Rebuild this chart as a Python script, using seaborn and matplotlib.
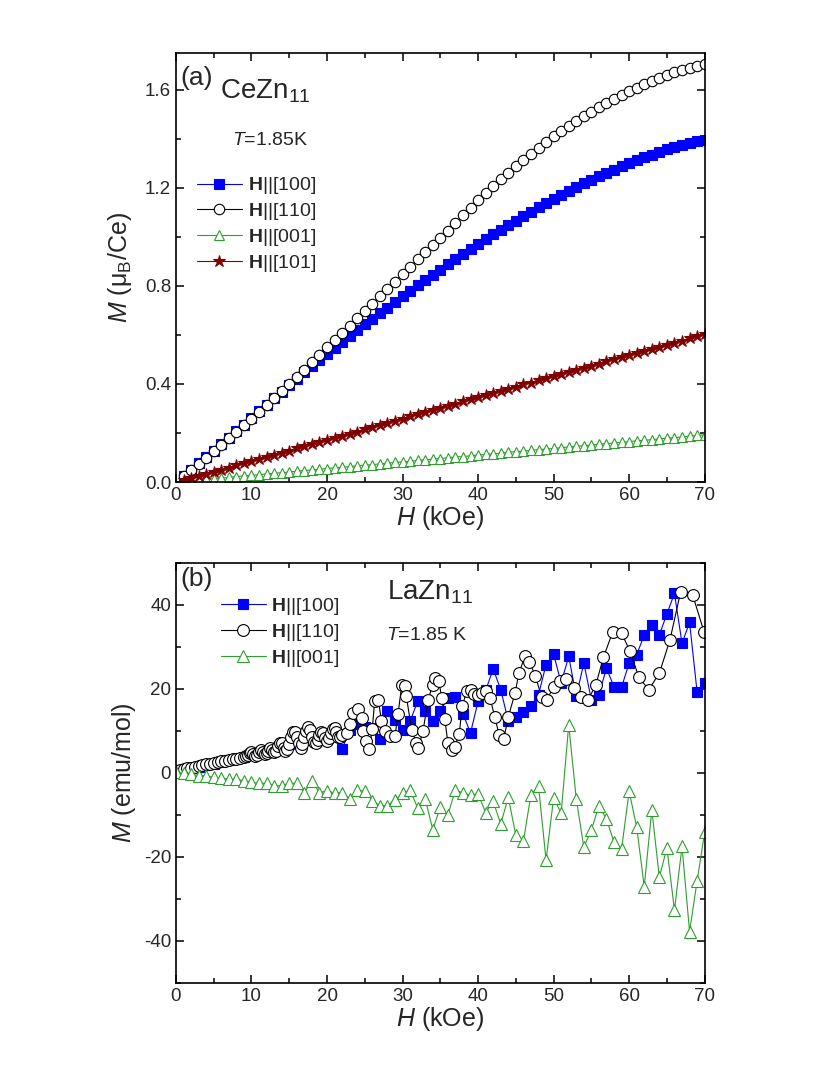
import matplotlib
matplotlib.use('Agg')
import matplotlib.pyplot as plt
from matplotlib.ticker import MultipleLocator, FormatStrFormatter
import seaborn as sns

# ---- panel (a): CeZn11, T = 1.85 K ----
h_a = [1, 2, 3, 4, 5, 6, 7, 8, 9, 10, 11, 12, 13, 14, 15, 16, 17, 18, 19, 20,
       21, 22, 23, 24, 25, 26, 27, 28, 29, 30, 31, 32, 33, 34, 35, 36, 37, 38, 39, 40,
       41, 42, 43, 44, 45, 46, 47, 48, 49, 50, 51, 52, 53, 54, 55, 56, 57, 58, 59, 60,
       61, 62, 63, 64, 65, 66, 67, 68, 69, 70]
m_a_100 = [0.025, 0.050, 0.076, 0.102, 0.128, 0.154, 0.180, 0.207, 0.234, 0.261,
           0.288, 0.315, 0.342, 0.369, 0.396, 0.422, 0.448, 0.474, 0.499, 0.524,
           0.548, 0.572, 0.596, 0.620, 0.643, 0.666, 0.689, 0.712, 0.735, 0.758,
           0.780, 0.802, 0.824, 0.846, 0.867, 0.888, 0.909, 0.930, 0.950, 0.970,
           0.990, 1.010, 1.029, 1.048, 1.067, 1.085, 1.103, 1.121, 1.138, 1.155,
           1.171, 1.187, 1.203, 1.218, 1.233, 1.247, 1.261, 1.275, 1.288, 1.301,
           1.313, 1.325, 1.336, 1.347, 1.357, 1.366, 1.375, 1.383, 1.390, 1.396]
m_a_110 = [0.024, 0.049, 0.074, 0.100, 0.126, 0.152, 0.178, 0.205, 0.232, 0.259,
           0.287, 0.315, 0.343, 0.372, 0.401, 0.430, 0.459, 0.489, 0.519, 0.549,
           0.578, 0.608, 0.638, 0.668, 0.698, 0.728, 0.758, 0.788, 0.818, 0.848,
           0.878, 0.908, 0.938, 0.967, 0.996, 1.025, 1.057, 1.089, 1.120, 1.150,
           1.179, 1.207, 1.235, 1.262, 1.289, 1.315, 1.340, 1.364, 1.387, 1.410,
           1.432, 1.453, 1.473, 1.492, 1.511, 1.529, 1.546, 1.563, 1.579, 1.595,
           1.609, 1.623, 1.636, 1.648, 1.660, 1.671, 1.681, 1.690, 1.699, 1.707]
m_a_001 = [0.003, 0.005, 0.008, 0.011, 0.014, 0.016, 0.019, 0.022, 0.025, 0.027,
           0.030, 0.033, 0.036, 0.038, 0.041, 0.044, 0.047, 0.049, 0.052, 0.055,
           0.058, 0.060, 0.063, 0.066, 0.069, 0.071, 0.074, 0.077, 0.080, 0.082,
           0.085, 0.088, 0.091, 0.093, 0.096, 0.099, 0.102, 0.104, 0.107, 0.110,
           0.113, 0.115, 0.118, 0.121, 0.124, 0.126, 0.129, 0.132, 0.135, 0.137,
           0.140, 0.143, 0.146, 0.148, 0.151, 0.154, 0.157, 0.159, 0.162, 0.165,
           0.168, 0.170, 0.173, 0.176, 0.179, 0.181, 0.184, 0.187, 0.190, 0.193]
m_a_101 = [0.008, 0.017, 0.025, 0.034, 0.042, 0.051, 0.059, 0.068, 0.076, 0.085,
           0.093, 0.102, 0.111, 0.119, 0.128, 0.137, 0.145, 0.154, 0.163, 0.171,
           0.180, 0.189, 0.198, 0.206, 0.215, 0.224, 0.233, 0.241, 0.250, 0.259,
           0.268, 0.276, 0.285, 0.294, 0.303, 0.311, 0.320, 0.329, 0.337, 0.346,
           0.355, 0.363, 0.372, 0.380, 0.389, 0.398, 0.406, 0.415, 0.423, 0.432,
           0.441, 0.449, 0.458, 0.466, 0.475, 0.483, 0.492, 0.500, 0.509, 0.517,
           0.526, 0.534, 0.543, 0.552, 0.560, 0.569, 0.577, 0.586, 0.595, 0.604]

# ---- panel (b): LaZn11, T = 1.85 K ----
h_b = [0, 1, 2, 3, 4, 5, 6, 7, 8, 9, 10, 11, 12, 13, 14, 15, 16, 17, 18, 19, 20,
       21, 22, 23, 24, 25, 26, 27, 28, 29, 30, 31, 32, 33, 34, 35, 36, 37, 38, 39, 40,
       41, 42, 43, 44, 45, 46, 47, 48, 49, 50, 51, 52, 53, 54, 55, 56, 57, 58, 59, 60,
       61, 62, 63, 64, 65, 66, 67, 68, 69, 70]
m_b_100 = [0.4, 0.8, 1.2, 1.5, 1.9, 2.2, 2.6, 3.0, 3.3, 3.7,
           4.3, 4.8, 5.2, 5.6, 6.2, 6.8, 7.3, 7.8, 8.3, 8.7,
           9.0, 9.2, 5.6, 10.3, 11.5, 11.0, 10.7, 8.0, 14.7, 12.5,
           10.1, 12.3, 17.0, 14.7, 12.3, 14.8, 17.7, 18.0, 14.0, 9.5,
           17.0, 19.6, 24.7, 19.8, 12.3, 13.3, 14.5, 15.9, 18.6, 25.7,
           28.2, 21.4, 27.7, 18.2, 26.1, 17.4, 18.6, 24.9, 20.4, 20.4,
           26.1, 28.1, 32.8, 35.2, 32.8, 37.8, 42.7, 30.8, 35.8, 19.2,
           21.4]
h_b_110 = [0.0, 0.5, 1.0, 1.5, 2.0, 2.5, 3.0, 3.5, 4.0, 4.5, 5.0, 5.5, 6.0, 6.5,
           7.0, 7.5, 8.0, 8.5, 9.0,
           9.25, 9.5, 9.75, 10.0, 10.25, 10.5, 10.75, 11.0, 11.25, 11.5, 11.75,
           12.0, 12.25, 12.5, 12.75, 13.0,
           13.25, 13.5, 13.75, 14.0, 14.25, 14.5, 14.75, 15.0, 15.25, 15.5, 15.75,
           16.0, 16.25, 16.5, 16.75, 17.0,
           17.25, 17.5, 17.75, 18.0, 18.25, 18.5, 18.75, 19.0, 19.25, 19.5, 19.75,
           20.0, 20.25, 20.5, 20.75, 21.0, 21.25, 21.5, 21.75, 22.0,
           22.6, 23.0, 23.5, 24.1, 24.6, 24.8, 25.2, 25.6, 26.0, 26.3,
           26.8, 27.2, 27.7, 28.3, 29.0, 29.4, 29.9, 30.3, 30.5, 31.2,
           31.8, 32.1, 32.7, 33.4, 34.0, 34.3, 34.8, 35.2, 35.6, 36.0,
           36.5, 36.9, 37.5, 37.9, 38.5, 39.0, 39.4, 40.0, 40.5, 41.0,
           41.6, 42.2, 42.8, 43.4, 44.0, 44.9, 45.4, 46.2, 46.8, 47.6,
           48.4, 49.1, 50.0, 50.9, 51.7, 52.7, 53.6, 54.6, 55.6, 56.6,
           57.8, 59.0, 60.1, 61.3, 62.6, 64.0, 65.4, 66.8, 68.4, 69.9]
m_b_110 = [0.5, 0.7, 0.9, 1.1, 1.2, 1.4, 1.6, 1.8, 2.0, 2.1, 2.3, 2.5, 2.7, 2.8,
           3.0, 3.2, 3.3, 3.5, 3.7,
           3.9, 4.2, 4.6, 4.9, 4.5, 4.0, 4.3, 5.0, 5.5, 5.0, 4.4,
           4.6, 5.3, 5.8, 5.4, 4.9,
           5.3, 6.3, 7.2, 7.0, 6.0, 5.2, 5.6, 6.8, 8.5, 9.6, 9.8,
           8.6, 7.0, 6.0, 6.8, 8.5,
           10.0, 10.8, 10.2, 8.6, 7.4, 7.0, 7.8, 9.0, 9.8, 9.4, 8.3,
           7.6, 8.2, 9.4, 10.4, 10.6, 9.6, 8.5, 8.6, 9.0,
           9.5, 11.5, 14.3, 15.1, 13.1, 9.9, 7.6, 5.6, 10.5, 17.0,
           17.4, 12.3, 9.9, 8.8, 8.8, 13.9, 21.0, 20.6, 18.2, 10.3,
           7.2, 6.0, 9.9, 17.4, 21.0, 22.6, 21.8, 17.8, 12.7, 7.2,
           5.4, 6.2, 9.2, 15.9, 19.4, 19.8, 18.8, 18.6, 19.0, 19.4,
           17.8, 13.3, 9.0, 8.0, 13.3, 19.0, 23.7, 27.7, 26.4, 23.0,
           18.0, 17.4, 20.4, 21.9, 22.4, 20.2, 18.0, 17.4, 21.0, 27.5,
           33.4, 33.2, 29.0, 22.7, 19.8, 23.7, 31.6, 42.9, 42.4, 33.6]
m_b_001 = [0.1, -0.1, -0.3, -0.7, -0.7, -1.1, -1.3, -1.5, -1.5, -1.9,
           -2.3, -2.5, -2.5, -3.1, -3.1, -2.5, -2.5, -4.7, -1.9, -4.7,
           -4.3, -4.8, -4.7, -6.2, -4.1, -4.4, -6.6, -7.8, -7.8, -6.4,
           -4.9, -4.1, -8.4, -6.2, -13.5, -8.2, -10.0, -4.1, -4.8, -5.3,
           -5.0, -9.5, -6.8, -12.2, -5.8, -14.9, -16.3, -5.2, -3.1, -20.8,
           -6.0, -9.6, 11.4, -6.2, -17.7, -13.6, -7.8, -11.0, -16.5, -18.1,
           -4.4, -12.9, -27.1, -8.8, -24.9, -17.8, -32.7, -17.5, -37.8, -25.7,
           -14.1]

labels = [r'$\mathbf{H}$||[100]', r'$\mathbf{H}$||[110]',
          r'$\mathbf{H}$||[001]', r'$\mathbf{H}$||[101]']

BLUE = '#0000ff'
GREEN = '#2e9e2e'
DARKRED = '#7f0000'

sns.set_style('ticks')
plt.rcParams['font.family'] = ['Liberation Sans', 'DejaVu Sans']
plt.rcParams['mathtext.fontset'] = 'custom'
plt.rcParams['mathtext.rm'] = 'Liberation Sans'
plt.rcParams['mathtext.it'] = 'Liberation Sans:italic'
plt.rcParams['mathtext.bf'] = 'Liberation Sans:bold'
plt.rcParams['axes.unicode_minus'] = False


def draw(ax, x, y, marker, color, face, size, label):
    sns.lineplot(x=x, y=y, ax=ax, color=color, lw=0.8, marker=marker,
                 markersize=size, markerfacecolor=face, markeredgecolor=color,
                 markeredgewidth=0.8, estimator=None, sort=False, label=label)


def style_axes(ax):
    for s in ax.spines.values():
        s.set_linewidth(1.2)
        s.set_color('black')
    ax.xaxis.set_major_locator(MultipleLocator(10))
    ax.xaxis.set_minor_locator(MultipleLocator(5))
    ax.tick_params(which='both', direction='in', top=True, right=True,
                   labelsize=13.5, width=1.1, color='black')
    ax.tick_params(which='major', length=6)
    ax.tick_params(which='minor', length=3.5)
    ax.set_xlim(0, 70)
    ax.set_xlabel(r'$H$ (kOe)', fontsize=18, labelpad=0)


fig = plt.figure(figsize=(8.3, 10.75), dpi=100)
ax1 = fig.add_axes([0.212, 0.5516, 0.637, 0.399])
ax2 = fig.add_axes([0.212, 0.0856, 0.637, 0.391])

# panel (a)
draw(ax1, h_a, m_a_100, 's', BLUE, BLUE, 7, labels[0])
draw(ax1, h_a, m_a_110, 'o', 'black', 'white', 7.5, labels[1])
draw(ax1, h_a, m_a_001, '^', GREEN, 'white', 7.5, labels[2])
draw(ax1, h_a, m_a_101, '*', DARKRED, DARKRED, 9, labels[3])
style_axes(ax1)
ax1.set_ylim(0, 1.75)
ax1.yaxis.set_major_locator(MultipleLocator(0.4))
ax1.yaxis.set_minor_locator(MultipleLocator(0.2))
ax1.yaxis.set_major_formatter(FormatStrFormatter('%.1f'))
ax1.set_ylabel(r'$M$ ($\mathrm{μ}_{\rm B}$/Ce)', fontsize=18, labelpad=8)
ax1.legend(loc='upper left', bbox_to_anchor=(0.04, 0.715), frameon=False,
           fontsize=14, handlelength=2.3, handletextpad=0.3,
           labelspacing=0.25, borderaxespad=0, borderpad=0)
ax1.text(0.008, 0.942, '(a)', transform=ax1.transAxes, fontsize=19, va='center')
ax1.text(0.083, 0.893, r'CeZn$_{11}$', transform=ax1.transAxes, fontsize=20,
         va='baseline')
ax1.text(0.106, 0.786, r'$T$=1.85K', transform=ax1.transAxes, fontsize=14,
         va='baseline')

# panel (b)
draw(ax2, h_b, m_b_100, 's', BLUE, BLUE, 7.5, labels[0])
draw(ax2, h_b_110, m_b_110, 'o', 'black', 'white', 8.5, labels[1])
draw(ax2, h_b, m_b_001, '^', GREEN, 'white', 8, labels[2])
style_axes(ax2)
ax2.set_ylim(-50, 50)
ax2.yaxis.set_major_locator(MultipleLocator(20))
ax2.yaxis.set_minor_locator(MultipleLocator(10))
ax2.set_ylabel(r'$M$ (emu/mol)', fontsize=18, labelpad=4)
ax2.legend(loc='upper left', bbox_to_anchor=(0.085, 0.92), frameon=False,
           fontsize=14, handlelength=2.3, handletextpad=0.3,
           labelspacing=0.25, borderaxespad=0, borderpad=0)
ax2.text(0.008, 0.962, '(b)', transform=ax2.transAxes, fontsize=19, va='center')
ax2.text(0.40, 0.912, r'LaZn$_{11}$', transform=ax2.transAxes, fontsize=20,
         va='baseline')
ax2.text(0.398, 0.817, r'$T$=1.85 K', transform=ax2.transAxes, fontsize=14,
         va='baseline')

fig.savefig('out.png', dpi=100)
plt.close(fig)
